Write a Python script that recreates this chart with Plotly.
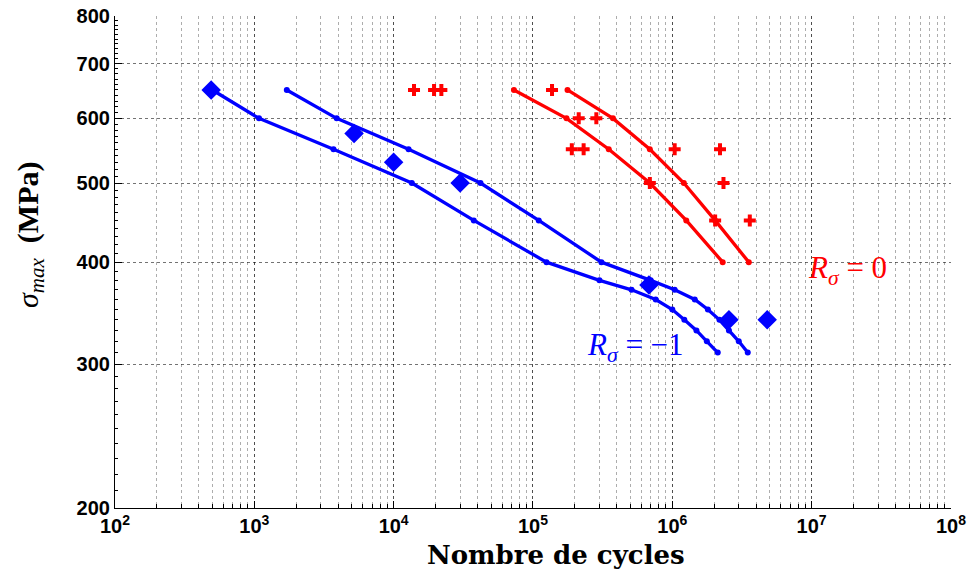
import plotly.graph_objects as go
import numpy as np

# ---- data ----
# R = -1, lower curve
cyc_a = [500, 1080, 3700, 13500, 37600, 125000, 300000, 510000, 760000, 1000000, 1220000, 1490000, 1770000, 2120000]
sig_a = [650, 600, 550, 500, 450, 400, 380, 370, 360, 350, 340, 330, 320, 310]
# R = -1, upper curve
cyc_b = [1710, 3900, 12800, 42000, 110000, 310000, 700000, 1040000, 1450000, 1800000, 2180000, 2550000, 3000000, 3480000]
sig_b = [650, 600, 550, 500, 450, 400, 380, 370, 360, 350, 340, 330, 320, 310]
# R = -1, experimental points
cyc_exp_b = [490, 5200, 10000, 30000, 680000, 2550000, 4800000]
sig_exp_b = [650, 575, 530, 500, 375, 340, 340]

# R = 0, left curve
cyc_c = [73000, 174000, 350000, 690000, 1260000, 2300000]
sig_c = [650, 600, 550, 500, 450, 400]
# R = 0, right curve
cyc_d = [177000, 375000, 690000, 1210000, 2030000, 3540000]
sig_d = [650, 600, 550, 500, 450, 400]
# R = 0, experimental points
cyc_exp_r = [14000, 19500, 22000, 137000, 213000, 285000, 190000, 231000, 1040000, 2200000,
             690000, 2330000, 2030000, 3600000]
sig_exp_r = [650, 650, 650, 650, 600, 600, 550, 550, 550, 550, 500, 500, 450, 450]

x_ticks = [1e2, 1e3, 1e4, 1e5, 1e6, 1e7, 1e8]
x_labels = ['10<sup>%d</sup>' % e for e in range(2, 9)]
y_ticks = [200, 300, 400, 500, 600, 700, 800]

BLUE = 'rgb(0,0,255)'
RED = 'rgb(255,0,0)'

fig = go.Figure()

for cx, sy in [(cyc_a, sig_a), (cyc_b, sig_b)]:
    fig.add_trace(go.Scatter(x=cx, y=sy, mode='lines+markers',
                             line=dict(color=BLUE, width=3.3),
                             marker=dict(color=BLUE, size=6)))
for cx, sy in [(cyc_c, sig_c), (cyc_d, sig_d)]:
    fig.add_trace(go.Scatter(x=cx, y=sy, mode='lines+markers',
                             line=dict(color=RED, width=3.3),
                             marker=dict(color=RED, size=6)))

fig.add_trace(go.Scatter(x=cyc_exp_b, y=sig_exp_b, mode='markers',
                         marker=dict(symbol='diamond', color=BLUE, size=15)))
fig.add_trace(go.Scatter(x=cyc_exp_r, y=sig_exp_r, mode='markers',
                         marker=dict(symbol='cross', color=RED, size=10)))

# ============================== >>> Labels <<< ==============================
fig.add_annotation(x=np.log10(540000), y=np.log10(315), xref='x', yref='y',
                   text='<i>R</i><sub><i>σ</i></sub> = −1', showarrow=False,
                   font=dict(family='Liberation Serif', size=31, color=BLUE))
fig.add_annotation(x=np.log10(1.8e7), y=np.log10(391), xref='x', yref='y',
                   text='<i>R</i><sub><i>σ</i></sub> = 0', showarrow=False,
                   font=dict(family='Liberation Serif', size=31, color=RED))

# axis titles placed as annotations (offset from the plot centre as in the original)
fig.add_annotation(x=0.527, y=0, xref='paper', yref='paper', yshift=-47,
                   xanchor='center', yanchor='middle', showarrow=False,
                   text='<b>Nombre de cycles</b>',
                   font=dict(family='DejaVu Serif', size=26, color='black'))
fig.add_annotation(x=0, y=0.555, xref='paper', yref='paper', xshift=-85,
                   xanchor='center', yanchor='middle', showarrow=False, textangle=-90,
                   text='<i>σ</i><sub><i>max</i></sub>  <b>(MPa)</b>',
                   font=dict(family='Liberation Serif', size=30, color='black'))

tick_font = dict(family='Liberation Sans', size=20, color='black', weight='bold')
grid_major = 'rgba(0,0,0,0.55)'
grid_minor = 'rgba(0,0,0,0.32)'

fig.update_layout(
    width=967, height=573,
    margin=dict(l=115, r=16, t=16, b=65),
    plot_bgcolor='white', paper_bgcolor='white',
    showlegend=False,
    xaxis=dict(type='log', range=[2, 8.0004], automargin=False,
               tickvals=x_ticks, ticktext=x_labels, tickfont=tick_font,
               ticklabeloverflow='allow',
               ticks='inside', ticklen=7, tickcolor='black',
               showline=True, linecolor='black', linewidth=1.2,
               showgrid=True, gridcolor=grid_major, griddash='dot', gridwidth=1,
               zeroline=False,
               minor=dict(dtick='D1', showgrid=True, gridcolor=grid_minor,
                          griddash='dot', ticks='inside', ticklen=4, tickcolor='black')),
    yaxis=dict(type='log', range=[np.log10(200), np.log10(800) + 0.0004], automargin=False,
               tickvals=y_ticks, tickfont=tick_font,
               ticklabeloverflow='allow',
               ticks='inside', ticklen=7, tickcolor='black',
               showline=True, linecolor='black', linewidth=1.2,
               showgrid=True, gridcolor=grid_major, griddash='dot', gridwidth=1,
               zeroline=False,
               minor=dict(dtick='L10', showgrid=False, ticks='inside', ticklen=3,
                          tickcolor='black')),
)

# the page body has a default 8px margin; remove it so the figure fills the window
fig.write_html("out.html", config={'displayModeBar': False},
               post_script="document.body.style.margin='0';")
